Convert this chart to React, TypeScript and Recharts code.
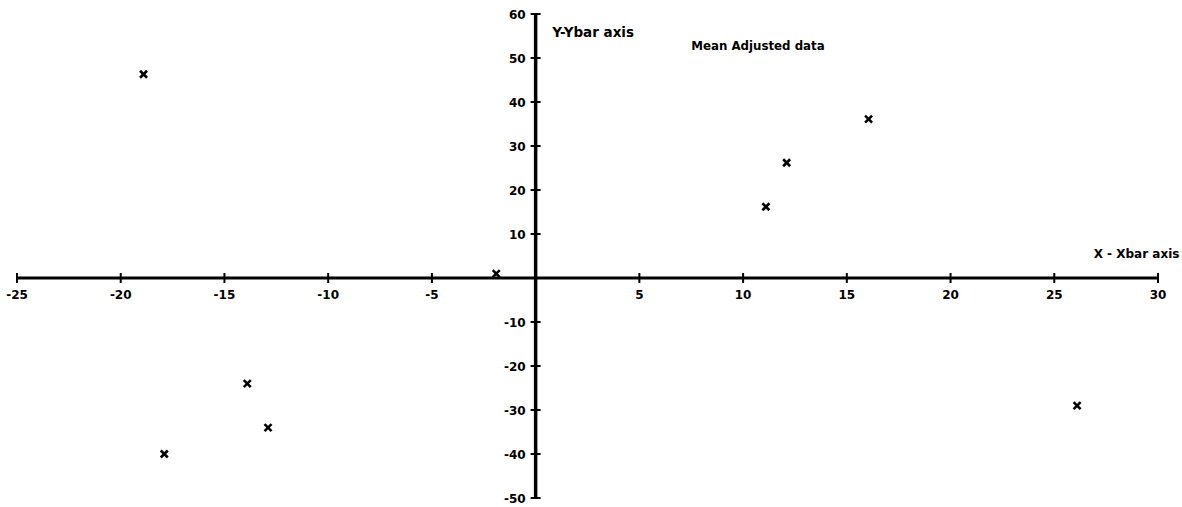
import React from 'react';
import { ScatterChart, Scatter, XAxis, YAxis, ReferenceLine, ReferenceDot } from 'recharts';

// Mean adjusted data points
const xValues = [-18.9, -17.9, -13.9, -12.9, -1.9, 11.1, 12.1, 16.05, 26.1];
const yValues = [46.3, -40, -24, -34, 1, 16.2, 26.2, 36.1, -29];

// Axis ticks
const xTicks = [-25, -20, -15, -10, -5, 5, 10, 15, 20, 25, 30];
const yTicks = [-50, -40, -30, -20, -10, 10, 20, 30, 40, 50, 60];
const xDomain: [number, number] = [-25, 30];
const yDomain: [number, number] = [-50, 60];

// Annotation texts
const annotationTexts = ['Y-Ybar axis', 'Mean Adjusted data', 'X - Xbar axis'];
const annotationX = [0.8, 7.5, 26.9];
const annotationY = [54.8, 51.8, 4.5];
const annotationSizes = [13.5, 11.8, 12];

const data = xValues.map((x, i) => ({ x, y: yValues[i] }));

const FONT = '"DejaVu Sans", sans-serif';

const Cross = (props: any) => {
  const { cx, cy } = props;
  if (cx == null || cy == null) return null;
  const s = 3.5;
  return (
    <g>
      <line x1={cx - s} y1={cy - s} x2={cx + s} y2={cy + s} stroke="#000" strokeWidth={2.6} />
      <line x1={cx - s} y1={cy + s} x2={cx + s} y2={cy - s} stroke="#000" strokeWidth={2.6} />
    </g>
  );
};

const makeXTick = (label: number) => (props: any) => {
  const { cx, cy } = props;
  return (
    <g>
      <line x1={cx} y1={cy - 5} x2={cx} y2={cy + 5} stroke="#000" strokeWidth={2} />
      <text x={cx} y={cy + 21} textAnchor="middle" fontFamily={FONT} fontWeight="bold" fontSize={12} fill="#000">
        {label}
      </text>
    </g>
  );
};

const makeYTick = (label: number) => (props: any) => {
  const { cx, cy } = props;
  return (
    <g>
      <line x1={cx - 5} y1={cy} x2={cx + 5} y2={cy} stroke="#000" strokeWidth={2} />
      <text x={cx - 10} y={cy + 4.5} textAnchor="end" fontFamily={FONT} fontWeight="bold" fontSize={12} fill="#000">
        {label}
      </text>
    </g>
  );
};

const makeAnnotation = (text: string, size: number) => (props: any) => {
  const { cx, cy } = props;
  return (
    <text x={cx} y={cy} textAnchor="start" fontFamily={FONT} fontWeight="bold" fontSize={size} fill="#000">
      {text}
    </text>
  );
};

export default function App() {
  return (
    <div style={{ position: 'absolute', left: 0, top: 0, background: '#fff' }}>
      <ScatterChart width={1182} height={507} margin={{ top: 14, right: 24, bottom: 9, left: 17 }}>
        <XAxis type="number" dataKey="x" domain={xDomain} hide allowDataOverflow />
        <YAxis type="number" dataKey="y" domain={yDomain} hide allowDataOverflow />
        <ReferenceLine y={0} stroke="#000" strokeWidth={3} ifOverflow="visible" />
        <ReferenceLine x={0} stroke="#000" strokeWidth={3.5} ifOverflow="visible" />
        {xTicks.map((t) => (
          <ReferenceDot key={'xt' + t} x={t} y={0} r={0} ifOverflow="visible" shape={makeXTick(t)} />
        ))}
        {yTicks.map((t) => (
          <ReferenceDot key={'yt' + t} x={0} y={t} r={0} ifOverflow="visible" shape={makeYTick(t)} />
        ))}
        {annotationTexts.map((txt, i) => (
          <ReferenceDot
            key={'an' + i}
            x={annotationX[i]}
            y={annotationY[i]}
            r={0}
            ifOverflow="visible"
            shape={makeAnnotation(txt, annotationSizes[i])}
          />
        ))}
        <Scatter data={data} shape={<Cross />} isAnimationActive={false} />
      </ScatterChart>
    </div>
  );
}
